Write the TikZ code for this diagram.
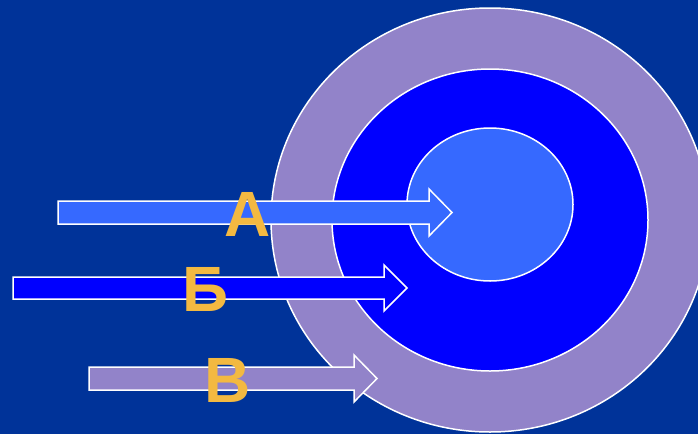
\documentclass[tikz,border=0pt]{standalone}
\usepackage{fontspec}
\setmainfont{Liberation Sans}
\definecolor{bg}{HTML}{003399}
\definecolor{lav}{HTML}{9283C9}
\definecolor{mid}{HTML}{0000FF}
\definecolor{inn}{HTML}{3669FF}
\definecolor{gold}{HTML}{F3B941}
\tikzset{
  ring/.style={draw=white, line width=1.5pt},
  blockarrow/.style={draw=white, line width=1.5pt, line join=miter},
  lbl/.style={text=gold, font=\fontsize{64}{64}\selectfont\bfseries, inner sep=0pt, anchor=base}
}
\begin{document}
\begin{tikzpicture}[x=1pt,y=-1pt]
\useasboundingbox (0,0) rectangle (698,434);
\fill[bg] (0,0) rectangle (698,434);
\begin{scope}
\clip (0,0) rectangle (698,434);
\draw[ring, fill=lav] (490,220) ellipse [x radius=219, y radius=212];
\draw[ring, fill=mid] (490,220) ellipse [x radius=158, y radius=151];
\draw[ring, fill=inn] (490,204.5) ellipse [x radius=83, y radius=76.5];
\end{scope}
% arrows
\draw[blockarrow, fill=inn] (58,201) -- (429,201) -- (429,189) -- (452,212.5) -- (429,236) -- (429,224) -- (58,224) -- cycle;
\draw[blockarrow, fill=mid] (13,277) -- (384,277) -- (384,265) -- (407,288) -- (384,311) -- (384,299) -- (13,299) -- cycle;
\draw[blockarrow, fill=lav] (89,367) -- (354,367) -- (354,355) -- (377,378.5) -- (354,402) -- (354,390) -- (89,390) -- cycle;
% labels
\node[lbl] (a) at (248,236) {А};
\node[lbl] (b) at (205,311) {Б};
\node[lbl] (v) at (228,402) {В};
\end{tikzpicture}
\end{document}
